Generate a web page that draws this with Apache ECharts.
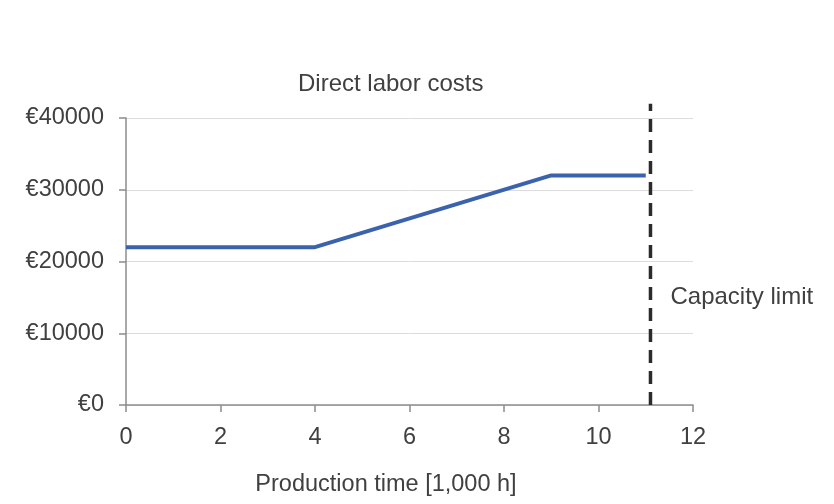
<!DOCTYPE html>
<html>
<head>
<meta charset="utf-8">
<script src="https://cdn.jsdelivr.net/npm/echarts@6/dist/echarts.min.js"></script>
<style>
  html, body { margin: 0; padding: 0; background: #fff; }
  #chart { width: 834px; height: 504px; }
</style>
</head>
<body>
<div id="chart"></div>
<script>
// production time in 1,000 h and direct labor costs in EUR
var hours = [0, 4, 9, 11];
var costs = [22000, 22000, 32000, 32000];
// capacity limit (vertical dashed marker)
var capacityX = 11.1;
var capacitySpan = [0, 42000];
var capacityLabelY = 15000;
var capacityLabel = 'Capacity limit';

var font = 'Liberation Sans, Arial, sans-serif';
var textColor = '#404040';

var chart = echarts.init(document.getElementById('chart'));

var costLine = hours.map(function (h, i) { return [h, costs[i]]; });
var capLine = capacitySpan.map(function (v) { return [capacityX, v]; });

chart.setOption({
    animation: false,
    title: {
        text: 'Direct labor costs',
        left: 293,
        top: 67,
        textStyle: { color: textColor, fontSize: 24, fontWeight: 'normal', fontFamily: font }
    },
    grid: { left: 126, right: 141, top: 118, bottom: 99 },
    xAxis: {
        type: 'value',
        min: 0,
        max: 12,
        interval: 2,
        name: 'Production time [1,000 h]',
        nameLocation: 'middle',
        nameGap: 68,
        nameTextStyle: { color: textColor, fontSize: 23.5, fontFamily: font, padding: [0, 47, 0, 0] },
        axisLine: { lineStyle: { color: '#8c8c8c', width: 1.5 } },
        axisTick: { show: true, length: 7, lineStyle: { color: '#8c8c8c', width: 1.5 } },
        axisLabel: { color: textColor, fontSize: 23.5, fontFamily: font, margin: 21 },
        splitLine: { show: false }
    },
    yAxis: {
        type: 'value',
        min: 0,
        max: 40000,
        interval: 10000,
        axisLine: { show: true, lineStyle: { color: '#8c8c8c', width: 1.5 } },
        axisTick: { show: true, length: 7, lineStyle: { color: '#8c8c8c', width: 1.5 } },
        axisLabel: {
            color: textColor, fontSize: 23.5, fontFamily: font, margin: 22,
            formatter: function (v) { return '\u20ac' + v; }
        },
        splitLine: { lineStyle: { color: '#dcdcdc', width: 1 } }
    },
    series: [{
        type: 'line',
        data: costLine,
        symbol: 'none',
        lineStyle: { color: '#3b63ad', width: 4 },
        z: 3
    }, {
        type: 'line',
        data: capLine,
        symbol: 'none',
        clip: false,
        lineStyle: { color: '#2b2b2b', width: 3.5, type: [13, 8] },
        z: 4
    }, {
        type: 'scatter',
        data: [[capacityX, capacityLabelY]],
        symbolSize: 2,
        itemStyle: { color: 'rgba(0,0,0,0)', opacity: 1 },
        silent: true,
        z: 5,
        label: {
            show: true,
            position: 'right',
            distance: 19,
            formatter: capacityLabel,
            color: textColor,
            fontSize: 24,
            fontFamily: font
        }
    }]
});
</script>
</body>
</html>
